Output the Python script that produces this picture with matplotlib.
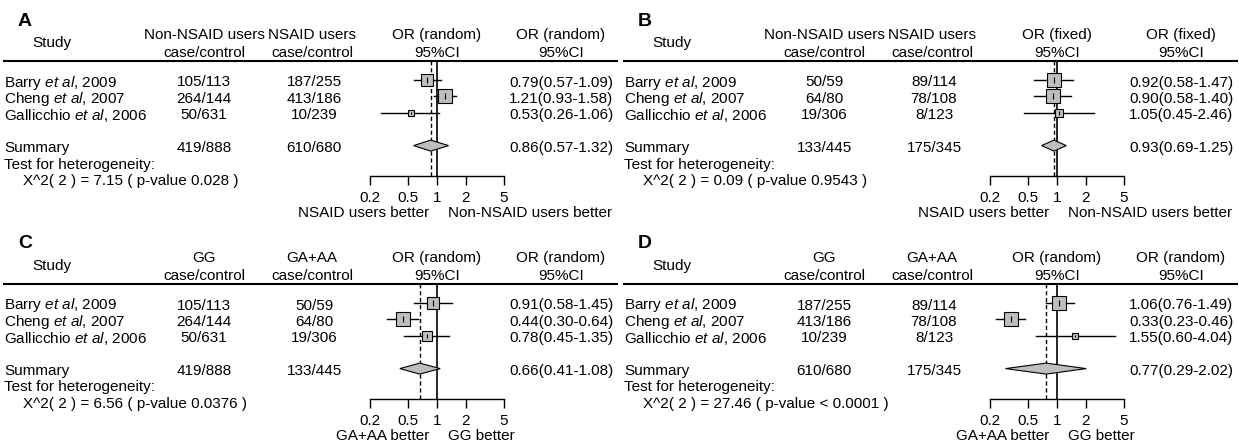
import numpy as np
import matplotlib
matplotlib.use('Agg')
import matplotlib.pyplot as plt
from matplotlib.ticker import NullLocator

plt.rcParams['font.family'] = ['Liberation Sans', 'DejaVu Sans']
plt.rcParams['mathtext.fontset'] = 'custom'
plt.rcParams['mathtext.rm'] = 'Liberation Sans'
plt.rcParams['mathtext.it'] = 'Liberation Sans:italic'
plt.rcParams['font.size'] = 11

# studies
authors = ['Barry', 'Cheng', 'Gallicchio']
years = [2009, 2007, 2006]

# panel A: NSAID use, random effects
a_col1 = ['105/113', '264/144', '50/631']
a_col2 = ['187/255', '413/186', '10/239']
a_sum_counts = ['419/888', '610/680']
a_or = [0.79, 1.21, 0.53]
a_lo = [0.57, 0.93, 0.26]
a_hi = [1.09, 1.58, 1.06]
a_summary = [0.86, 0.57, 1.32]
a_het = ['7.15', '0.028']

# panel B: NSAID use, fixed effects
b_col1 = ['50/59', '64/80', '19/306']
b_col2 = ['89/114', '78/108', '8/123']
b_sum_counts = ['133/445', '175/345']
b_or = [0.92, 0.90, 1.05]
b_lo = [0.58, 0.58, 0.45]
b_hi = [1.47, 1.40, 2.46]
b_summary = [0.93, 0.69, 1.25]
b_het = ['0.09', '0.9543']

# panel C: GG vs GA+AA, random effects
c_col1 = ['105/113', '264/144', '50/631']
c_col2 = ['50/59', '64/80', '19/306']
c_sum_counts = ['419/888', '133/445']
c_or = [0.91, 0.44, 0.78]
c_lo = [0.58, 0.30, 0.45]
c_hi = [1.45, 0.64, 1.35]
c_summary = [0.66, 0.41, 1.08]
c_het = ['6.56', '0.0376']

# panel D: GG vs GA+AA, random effects
d_col1 = ['187/255', '413/186', '10/239']
d_col2 = ['89/114', '78/108', '8/123']
d_sum_counts = ['610/680', '175/345']
d_or = [1.06, 0.33, 1.55]
d_lo = [0.76, 0.23, 0.60]
d_hi = [1.49, 0.46, 4.04]
d_summary = [0.77, 0.29, 2.02]
d_het = ['27.46', '< 0.0001']

ticks = [0.2, 0.5, 1, 2, 5]
tick_labels = ['0.2', '0.5', '1', '2', '5']

W, H = 1239, 446
PW, PH = 620, 223
ROW0, ROWH = 80, 16.4
fig = plt.figure(figsize=(W / 100, H / 100), dpi=100)


def row_px(k):
    # text sits a bit lower than the marks of the same row
    return ROW0 + ROWH * k + 2.5


def panel(x0, y0, letter, head1, head2, model, col1, col2, sum_counts,
          ors, lo, hi, summ, het, better):
    # text part, pixel coordinates inside the panel
    ax = fig.add_axes([x0 / W, 1 - (y0 + PH) / H, PW / W, PH / H])
    ax.set_xlim(0, PW)
    ax.set_ylim(PH, 0)
    ax.axis('off')

    ax.text(18, 21, letter, fontsize=14, fontweight='bold', va='center')
    ax.text(52, 43, 'Study', ha='center', va='center')
    ax.text(204, 35, head1, ha='center', va='center')
    ax.text(204, 53, 'case/control', ha='center', va='center')
    ax.text(312, 35, head2, ha='center', va='center')
    ax.text(312, 53, 'case/control', ha='center', va='center')
    for cx in (437, 561):
        ax.text(cx, 35, 'OR (%s)' % model, ha='center', va='center')
        ax.text(cx, 53, '95%CI', ha='center', va='center')
    ax.plot([3, 618], [61, 61], color='k', lw=1.5, solid_capstyle='butt')

    for k in range(len(authors)):
        y = row_px(k)
        ax.text(4, y, r'%s $\mathit{et\ al}$, %d' % (authors[k], years[k]),
                va='center')
        ax.text(204, y, col1[k], ha='center', va='center')
        ax.text(314, y, col2[k], ha='center', va='center')
        ax.text(561, y, '%.2f(%.2f-%.2f)' % (ors[k], lo[k], hi[k]),
                ha='center', va='center')
    y = row_px(4)
    ax.text(4, y, 'Summary', va='center')
    ax.text(204, y, sum_counts[0], ha='center', va='center')
    ax.text(314, y, sum_counts[1], ha='center', va='center')
    ax.text(561, y, '%.2f(%.2f-%.2f)' % tuple(summ), ha='center', va='center')
    ax.text(4, row_px(5), 'Test for heterogeneity:', va='center')
    ax.text(23, row_px(6), 'X^2( 2 ) = %s ( p-value %s )' % (het[0], het[1]),
            va='center')
    ax.text(429, 213, better[0], ha='right', va='center')
    ax.text(448, 213, better[1], ha='left', va='center')

    # forest part
    af = fig.add_axes([(x0 + 370) / W, 1 - (y0 + 176) / H, 134 / W, 115 / H])
    af.patch.set_alpha(0)
    af.set_xscale('log')
    af.set_xlim(0.2, 5)
    af.set_ylim((176 - ROW0) / ROWH, (61 - ROW0) / ROWH)
    for s in ('top', 'left', 'right'):
        af.spines[s].set_visible(False)
    af.spines['bottom'].set_linewidth(1)
    af.set_xticks(ticks)
    af.set_xticklabels(tick_labels)
    af.xaxis.set_minor_locator(NullLocator())
    af.set_yticks([])
    af.tick_params(axis='x', direction='out', length=6.5, width=1, pad=4.5,
                   labelsize=11)

    af.axvline(1, color='k', lw=1.2, zorder=1)
    af.axvline(summ[0], color='k', lw=1, ls=(0, (3, 2)), zorder=1)

    se = (np.log(hi) - np.log(lo)) / (2 * 1.96)
    size = (1 / se) / (1 / se).max() * 10.5
    for k in range(len(ors)):
        af.plot([lo[k], hi[k]], [k, k], color='k', lw=1, zorder=2)
        af.plot(ors[k], k, marker='s', ms=size[k], mfc='#bebebe', mec='k',
                mew=0.8, zorder=3)
        af.plot(ors[k], k, marker='|', ms=size[k] * 0.45, mec='k', mew=0.8,
                zorder=4)
    h = 5.5 / ROWH
    af.fill([summ[1], summ[0], summ[2], summ[0]], [4, 4 - h, 4, 4 + h],
            fc='#bebebe', ec='k', lw=0.8, zorder=3)


panel(0, 0, 'A', 'Non-NSAID users', 'NSAID users', 'random',
      a_col1, a_col2, a_sum_counts, a_or, a_lo, a_hi, a_summary, a_het,
      ('NSAID users better', 'Non-NSAID users better'))
panel(620, 0, 'B', 'Non-NSAID users', 'NSAID users', 'fixed',
      b_col1, b_col2, b_sum_counts, b_or, b_lo, b_hi, b_summary, b_het,
      ('NSAID users better', 'Non-NSAID users better'))
panel(0, 223, 'C', 'GG', 'GA+AA', 'random',
      c_col1, c_col2, c_sum_counts, c_or, c_lo, c_hi, c_summary, c_het,
      ('GA+AA better', 'GG better'))
panel(620, 223, 'D', 'GG', 'GA+AA', 'random',
      d_col1, d_col2, d_sum_counts, d_or, d_lo, d_hi, d_summary, d_het,
      ('GA+AA better', 'GG better'))

fig.savefig('out.png', dpi=100)
